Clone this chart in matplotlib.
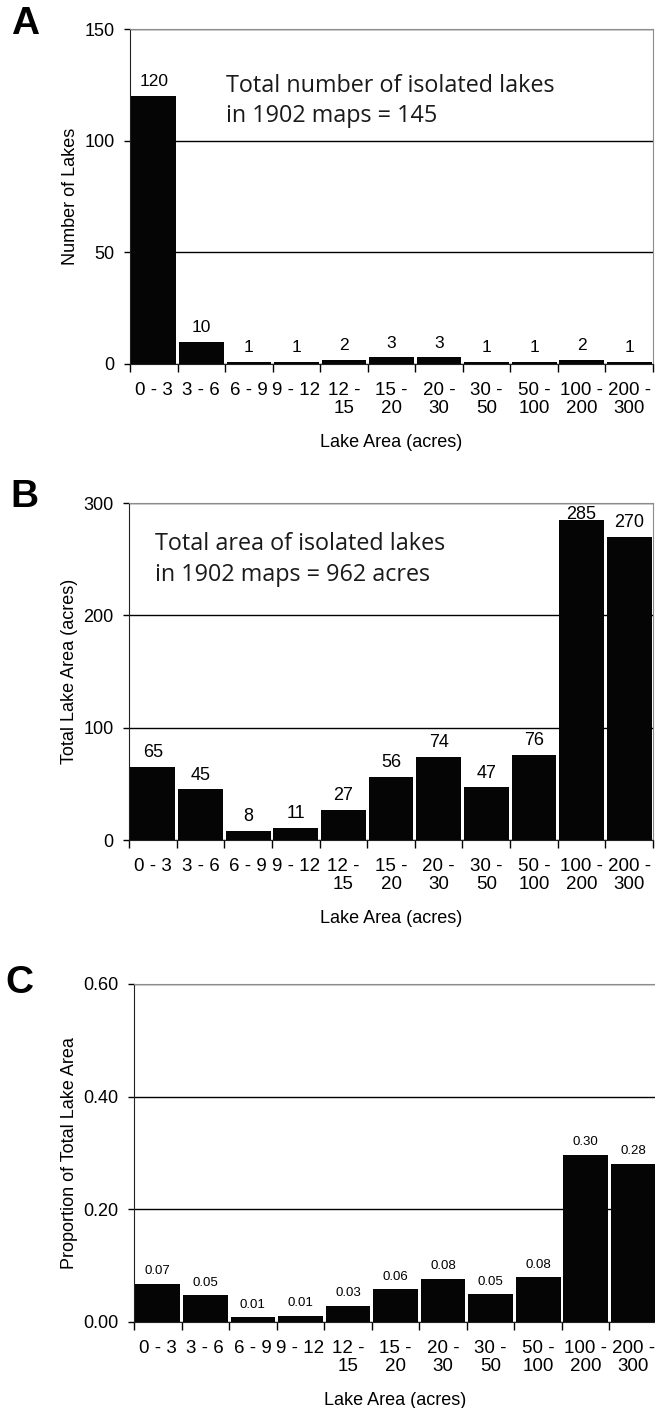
#Import the required packages
import matplotlib
matplotlib.use("Agg")
import matplotlib.pyplot as plt

#Lake size classes (acres) and values
size_classes = ["0 - 3", "3 - 6", "6 - 9", "9 - 12", "12 -\n15", "15 -\n20",
                "20 -\n30", "30 -\n50", "50 -\n100", "100 -\n200", "200 -\n300"]
lake_counts = [120, 10, 1, 1, 2, 3, 3, 1, 1, 2, 1]
lake_areas = [65, 45, 8, 11, 27, 56, 74, 47, 76, 285, 270]
area_proportions = [0.068, 0.047, 0.008, 0.011, 0.028, 0.058, 0.077, 0.049, 0.079, 0.296, 0.281]

counts_ticks = [0, 50, 100, 150]
areas_ticks = [0, 100, 200, 300]
proportion_ticks = [0.0, 0.2, 0.4, 0.6]

plt.rcParams["font.family"] = ["Liberation Sans", "DejaVu Sans"]

fig = plt.figure(figsize=(6.55, 14.08), dpi=100)


def draw_panel(ax, values, yticks, ylabel, fmt, label_size, label_offset):
    x = list(range(len(values)))
    ax.bar(x, values, width=0.94, color="#050505", zorder=3)
    ymax = yticks[-1]
    ax.set_ylim(0, ymax)
    ax.set_xlim(-0.5, len(values) - 0.5)
    ax.set_axisbelow(True)

    #Horizontal gridlines at the major ticks
    ax.set_yticks(yticks)
    ax.set_yticklabels([fmt.format(t) for t in yticks], fontsize=13)
    ax.yaxis.grid(True, color="black", linewidth=1)
    ax.tick_params(axis="y", direction="out", length=4, width=1, pad=7)

    #Category boundaries get the ticks, labels sit in the middle
    ax.set_xticks([i - 0.5 for i in range(len(values) + 1)])
    ax.set_xticklabels([])
    ax.set_xticks(x, minor=True)
    ax.set_xticklabels(size_classes, minor=True, fontsize=13.5, linespacing=1.1)
    ax.tick_params(axis="x", which="major", direction="out", length=6, width=1)
    ax.tick_params(axis="x", which="minor", length=0, pad=13)

    for side in ["top", "right"]:
        ax.spines[side].set_color("#8c8c8c")
    for side in ["left", "bottom"]:
        ax.spines[side].set_color("#222222")

    ax.set_ylabel(ylabel, fontsize=13, labelpad=4)
    ax.set_xlabel("Lake Area (acres)", fontsize=13, labelpad=12)

    #Value labels above each bar, pushed inside when they would hit the frame
    for xi, v in zip(x, values):
        off = label_offset if v < 0.93 * ymax else 1
        ax.annotate(fmt.format(v), (xi, v),
                    xytext=(0, off), textcoords="offset points",
                    ha="center", va="baseline", fontsize=label_size)


#Panel A - number of lakes
ax_a = fig.add_axes([0.1985, 0.7415, 0.7985, 0.2379])
draw_panel(ax_a, lake_counts, counts_ticks, "Number of Lakes", "{:d}", 12.5, 7)
ax_a.text(0.1836, 0.812, "Total number of isolated lakes", transform=ax_a.transAxes,
          family="Open Sans", fontsize=16.8, va="baseline", color="#1a1a1a")
ax_a.text(0.1836, 0.7224, "in 1902 maps = 145", transform=ax_a.transAxes,
          family="Open Sans", fontsize=16.8, va="baseline", color="#1a1a1a")

#Panel B - total lake area
ax_b = fig.add_axes([0.1970, 0.4034, 0.8000, 0.2393])
draw_panel(ax_b, lake_areas, areas_ticks, "Total Lake Area (acres)", "{:d}", 13, 7)
ax_b.text(0.0496, 0.8605, "Total area of isolated lakes", transform=ax_b.transAxes,
          family="Open Sans", fontsize=16.8, va="baseline", color="#1a1a1a")
ax_b.text(0.0496, 0.7685, "in 1902 maps = 962 acres", transform=ax_b.transAxes,
          family="Open Sans", fontsize=16.8, va="baseline", color="#1a1a1a")

#Panel C - proportion of total lake area
ax_c = fig.add_axes([0.2046, 0.0611, 0.7985, 0.2401])
draw_panel(ax_c, area_proportions, proportion_ticks, "Proportion of Total Lake Area", "{:.2f}", 9.5, 7)

#Panel letters
fig.text(25 / 655, 1 - 24 / 1408, "A", fontsize=28, fontweight="bold", ha="center", va="center")
fig.text(24 / 655, 1 - 497 / 1408, "B", fontsize=28, fontweight="bold", ha="center", va="center")
fig.text(19 / 655, 1 - 983 / 1408, "C", fontsize=28, fontweight="bold", ha="center", va="center")

fig.savefig("out.png", dpi=100)
